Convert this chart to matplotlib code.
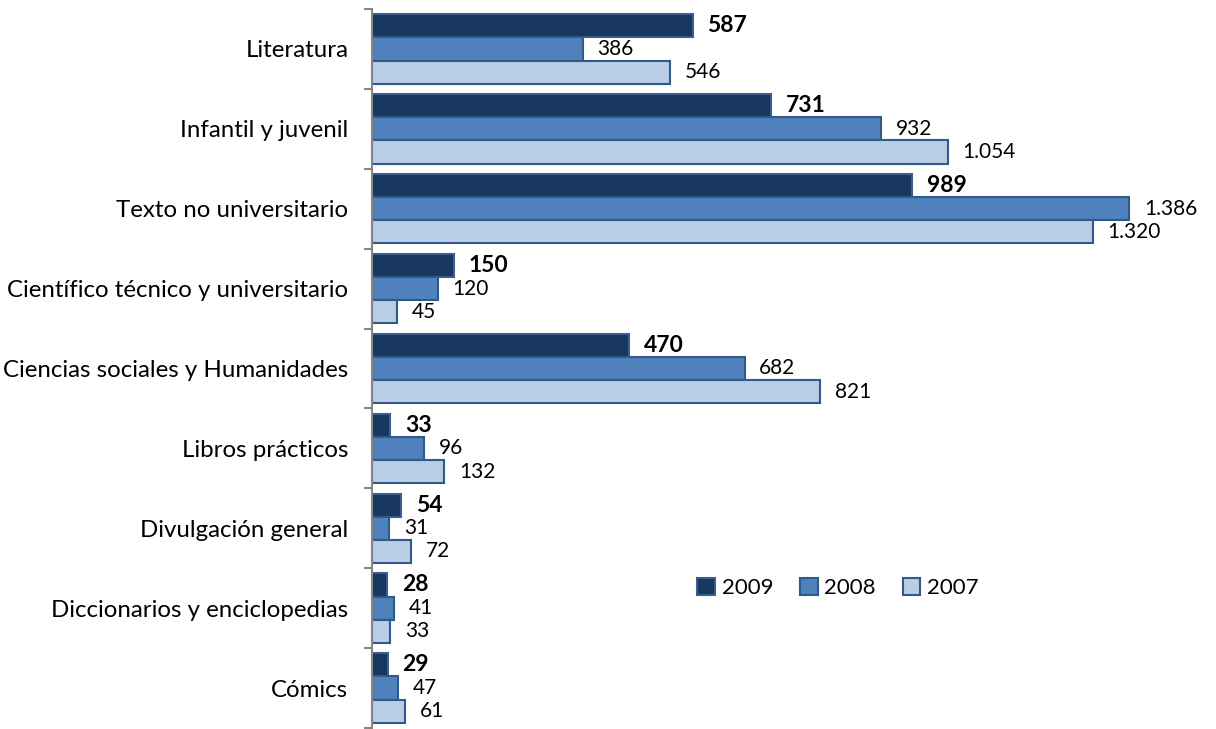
import numpy as np
import matplotlib
matplotlib.use("Agg")
import matplotlib.pyplot as plt

plt.rcParams['font.family'] = ['Lato', 'DejaVu Sans']

categories = ['Literatura', 'Infantil y juvenil', 'Texto no universitario',
              'Científico técnico y universitario', 'Ciencias sociales y Humanidades',
              'Libros prácticos', 'Divulgación general', 'Diccionarios y enciclopedias',
              'Cómics']
v2009 = [587, 731, 989, 150, 470, 33, 54, 28, 29]
v2008 = [386, 932, 1386, 120, 682, 96, 31, 41, 47]
v2007 = [546, 1054, 1320, 45, 821, 132, 72, 33, 61]
years = ['2009', '2008', '2007']

colors = ['#17375E', '#4F81BD', '#B9CDE5']
edges = ['#3A5F8F', '#2F5A8A', '#2F5A8A']

def fmt(v):
    return f"{v:,}".replace(",", ".")

fig = plt.figure(figsize=(12.16, 7.29), dpi=100)
ax = fig.add_axes([372/1216, 1/729, (1216-372)/1216, 719/729])

y = np.arange(len(categories))
h = 0.29
series = [v2009, v2008, v2007]
for i, vals in enumerate(series):
    pos = y + (i - 1) * h
    ax.barh(pos, vals, height=h, color=colors[i], edgecolor=edges[i],
            linewidth=1.5, label=years[i])
    for p, v in zip(pos, vals):
        if i == 0:
            ax.text(v + 27, p, fmt(v), va='center', ha='left', fontsize=16.5,
                    fontweight='bold', color='black')
        else:
            ax.text(v + 27, p, fmt(v), va='center', ha='left', fontsize=15,
                    color='black')

ax.set_xlim(0, (1216-372)/0.5462)
ax.set_ylim(len(categories) - 0.5, -0.5)
ax.set_yticks(y)
ax.set_yticklabels(categories, fontsize=17.3)
ax.tick_params(axis='y', which='major', length=0, pad=17)
ax.set_yticks(np.arange(-0.5, len(categories), 1), minor=True)
ax.tick_params(axis='y', which='minor', length=6, color='#868686', width=1.5)
ax.set_xticks([])
for s in ['top', 'right', 'bottom']:
    ax.spines[s].set_visible(False)
ax.spines['left'].set_color('#868686')
ax.spines['left'].set_linewidth(1.5)

leg = fig.legend(loc='center', bbox_to_anchor=(838/1216, 1 - 588/729), ncol=3,
                 frameon=False, fontsize=16, handlelength=0.8, handleheight=0.8,
                 handletextpad=0.3, columnspacing=1.2)

fig.savefig('out.png', dpi=100)
